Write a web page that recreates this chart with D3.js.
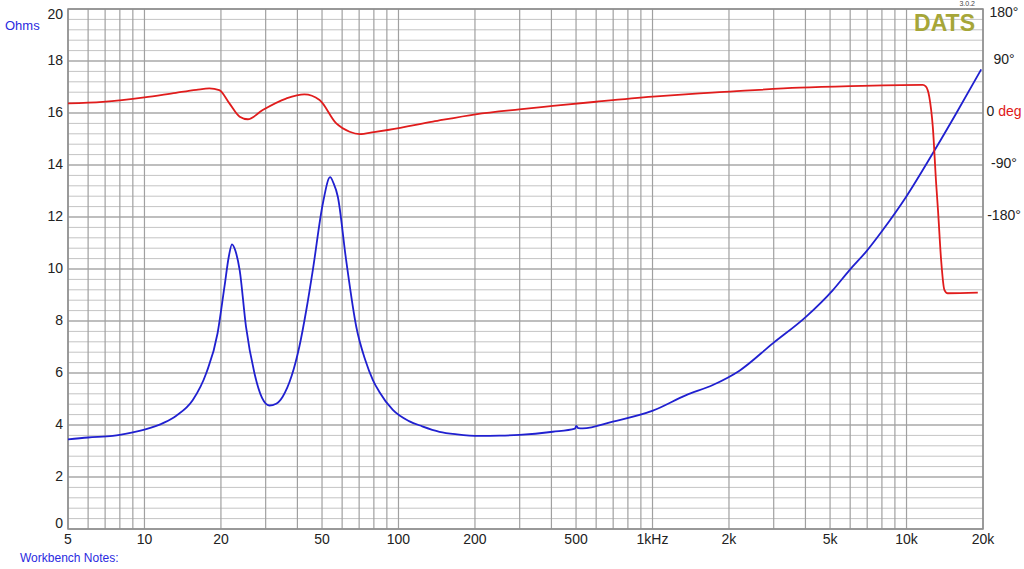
<!DOCTYPE html>
<html>
<head>
<meta charset="utf-8">
<script src="https://cdn.jsdelivr.net/npm/d3@7"></script>
<style>
  body { margin: 0; background: #fff; }
  text { font-family: "Liberation Sans", Arial, sans-serif; }
</style>
</head>
<body>
<div id="chart"></div>
<script>
// impedance curve (Hz, ohms)
const zFreq = [5, 6, 7.5, 9, 10, 12, 13.3, 15.5, 17.5, 19.4, 20.65, 21.5, 22.1, 22.8, 23.7, 25.1, 27.1, 29, 31, 33, 35, 38, 40.7, 43.5, 46, 50.4, 53.8, 55.5, 57.7, 62.2, 68.2, 74, 79.3, 84, 95, 110, 124, 145, 170, 208, 250, 299, 405, 495, 501, 510, 531, 698, 1003, 1357, 1728, 2200, 2976, 4027, 5130, 5965, 6937, 8066, 9970, 12690, 15700, 19680];
const zOhms = [3.45, 3.52, 3.58, 3.72, 3.82, 4.1, 4.35, 4.96, 5.99, 7.53, 9.32, 10.5, 10.95, 10.7, 9.96, 7.78, 5.99, 5.05, 4.75, 4.82, 5.09, 5.9, 7.01, 8.5, 9.96, 12.53, 13.53, 13.3, 12.78, 10.35, 7.78, 6.5, 5.73, 5.28, 4.58, 4.15, 3.95, 3.74, 3.64, 3.58, 3.59, 3.62, 3.74, 3.86, 3.97, 3.88, 3.87, 4.13, 4.55, 5.15, 5.54, 6.09, 7.14, 8.17, 9.19, 9.96, 10.67, 11.5, 12.78, 14.45, 15.99, 17.68];

// phase curve (Hz, degrees)
const pFreq = [5, 6.85, 10, 13.3, 16, 18, 19.7, 21.6, 23.7, 25.5, 29.2, 36.1, 42.6, 48.9, 56.9, 64.2, 70.4, 80, 92, 136.6, 201, 299, 405, 600, 1003, 1531, 1837, 3793, 6000, 11590, 11900, 12290, 12690, 13080, 13300, 13680, 14090, 14520, 19080];
const pDeg = [16.7, 19.4, 27, 35, 40, 42.7, 39.7, 16.7, -6.4, -10.8, 5.2, 25, 32.3, 22.5, -18, -32.4, -36.4, -33, -29, -15, -2.2, 6.4, 12.2, 19.5, 28.3, 34, 36, 43.8, 46.5, 48.6, 46, 28, -24, -122, -168, -254, -306, -312, -311];

// axes
const xTicks = [5, 10, 20, 50, 100, 200, 500, 1000, 2000, 5000, 10000, 20000];
const xTickLabels = ["5", "10", "20", "50", "100", "200", "500", "1kHz", "2k", "5k", "10k", "20k"];
const yTicks = [0, 2, 4, 6, 8, 10, 12, 14, 16, 18, 20];
const phaseTicks = [180, 90, 0, -90, -180];
const phaseLabels = ["180°", "90°", "0", "-90°", "-180°"];

const width = 1024, height = 569;
const margin = { top: 9, right: 41, bottom: 40, left: 68 };
const innerW = width - margin.left - margin.right;
const innerH = height - margin.top - margin.bottom;

const x = d3.scaleLog().domain([5, 20000]).range([0, innerW]);
const y = d3.scaleLinear().domain([0, 20]).range([innerH, 0]);
// phase shares the grid: 90 deg = 2 ohm, 0 deg sits on the 16 ohm line
const yPhase = d3.scaleLinear().domain([-180, 180]).range([y(12), y(20)]);

const svg = d3.select("#chart").append("svg")
  .attr("width", width).attr("height", height);

const g = svg.append("g").attr("transform", `translate(${margin.left},${margin.top})`);

// grid lines - 1..9 per decade
const vGrid = [];
for (let dec = 1; dec <= 10000; dec *= 10) {
  for (let k = 1; k <= 9; k++) {
    const f = k * dec;
    if (f < 5 || f > 20000) continue;
    if (dec === 10 && k > 1 && k < 2) continue;
    vGrid.push(f);
  }
}
// the 10..20 Hz span has no minor lines in the original
const vGridUsed = vGrid.filter(f => !(f > 10 && f < 20));

const hGrid = d3.range(0, 20.01, 0.4).map(v => +v.toFixed(1));

g.append("g").selectAll("line")
  .data(hGrid)
  .join("line")
  .attr("x1", 0).attr("x2", innerW)
  .attr("y1", d => y(d)).attr("y2", d => y(d))
  .attr("stroke", d => (Math.abs(d % 2) < 0.01 ? "#a8a8a8" : "#c4c4c4"))
  .attr("stroke-width", d => (Math.abs(d % 2) < 0.01 ? 1.6 : 1));

g.append("g").selectAll("line")
  .data(vGridUsed)
  .join("line")
  .attr("x1", d => x(d)).attr("x2", d => x(d))
  .attr("y1", 0).attr("y2", innerH)
  .attr("stroke", "#a0a0a0")
  .attr("stroke-width", 1.2);

// frame
g.append("rect")
  .attr("x", 0).attr("y", 0)
  .attr("width", innerW).attr("height", innerH)
  .attr("fill", "none")
  .attr("stroke", "#8c8c8c")
  .attr("stroke-width", 1.5);

// left labels
g.append("g").selectAll("text")
  .data(yTicks)
  .join("text")
  .attr("x", -5)
  .attr("y", d => Math.min(Math.max(y(d), 6), innerH - 5))
  .attr("text-anchor", "end")
  .attr("dominant-baseline", "middle")
  .attr("font-size", 14)
  .attr("fill", "#222")
  .text(d => d);

// bottom labels
g.append("g").selectAll("text")
  .data(xTicks)
  .join("text")
  .attr("x", d => x(d))
  .attr("y", innerH + 15)
  .attr("text-anchor", "middle")
  .attr("font-size", 14)
  .attr("fill", "#222")
  .text((d, i) => xTickLabels[i]);

// right phase labels
const rl = g.append("g").selectAll("text")
  .data(phaseTicks)
  .join("text")
  .attr("x", innerW + 21)
  .attr("y", d => Math.max(yPhase(d), 5) - 1)
  .attr("text-anchor", "middle")
  .attr("dominant-baseline", "middle")
  .attr("font-size", 14)
  .attr("fill", "#222")
  .text((d, i) => phaseLabels[i]);
rl.filter(d => d === 0)
  .append("tspan")
  .attr("fill", "#e01818")
  .text(" deg");

// curves
const zData = zFreq.map((f, i) => ({ f: f, v: zOhms[i] }));
const pData = pFreq.map((f, i) => ({ f: f, v: pDeg[i] }));

g.append("path")
  .datum(zData)
  .attr("fill", "none")
  .attr("stroke", "#2020d0")
  .attr("stroke-width", 1.8)
  .attr("d", d3.line().x(d => x(d.f)).y(d => y(d.v)).curve(d3.curveMonotoneX));

g.append("path")
  .datum(pData)
  .attr("fill", "none")
  .attr("stroke", "#e01c1c")
  .attr("stroke-width", 1.8)
  .attr("d", d3.line().x(d => x(d.f)).y(d => yPhase(d.v)).curve(d3.curveMonotoneX));

// titles and notes
svg.append("text")
  .attr("x", 5).attr("y", 30)
  .attr("font-size", 13)
  .attr("fill", "#2a2ae0")
  .text("Ohms");

svg.append("text")
  .attr("x", 20).attr("y", 562)
  .attr("font-size", 12)
  .attr("fill", "#2a2ae0")
  .text("Workbench Notes:");

svg.append("text")
  .attr("x", 975).attr("y", 31)
  .attr("text-anchor", "end")
  .attr("font-size", 23)
  .attr("font-weight", "bold")
  .attr("fill", "#a6a638")
  .text("DATS");

svg.append("text")
  .attr("x", 975).attr("y", 6)
  .attr("text-anchor", "end")
  .attr("font-size", 7)
  .attr("font-family", "Liberation Serif, serif")
  .attr("fill", "#444")
  .text("3.0.2");
</script>
</body>
</html>
